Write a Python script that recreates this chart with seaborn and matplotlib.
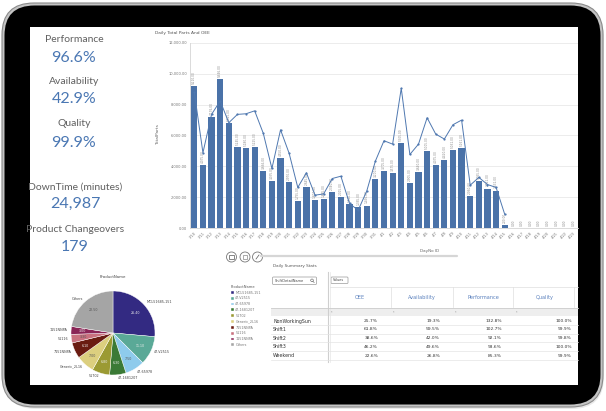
import numpy as np
import pandas as pd
import matplotlib
matplotlib.use("Agg")
import matplotlib.pyplot as plt
import seaborn as sns
from matplotlib.patches import FancyBboxPatch, Rectangle, Circle

# ---------------- data ----------------
days = ["3/10", "3/11", "3/12", "3/13", "3/14", "3/15", "3/16", "3/17", "3/18", "3/19",
        "3/20", "3/21", "3/22", "3/23", "3/24", "3/25", "3/26", "3/27", "3/28", "3/29",
        "3/30", "3/31", "4/1", "4/2", "4/3", "4/4", "4/5", "4/6", "4/7", "4/8",
        "4/9", "4/10", "4/11", "4/12", "4/13", "4/14", "4/15", "4/16", "4/17", "4/18",
        "4/19", "4/20", "4/21", "4/22", "4/23"]
total_parts = [9210, 4075, 7176, 9646, 6825, 5245, 5180, 5225, 3666, 3035,
               4550, 2970, 1755, 2645, 1800, 1885, 2340, 2015, 1560, 1365,
               1456, 3200, 3705, 3575, 5505, 2905, 3640, 5005, 4075, 4420,
               5031, 5161, 2060, 3055, 2561, 2431, 200, 0, 0, 0,
               0, 0, 0, 0, 0]
oee_pct = [88.0, 48.8, 73.7, 82.4, 68.3, 73.7, 74.1, 76.0, 61.4, 38.6,
           63.7, 48.4, 26.3, 35.8, 21.3, 22.1, 32.1, 33.6, 15.9, 11.5,
           24.0, 43.4, 56.6, 54.4, 90.6, 47.7, 54.4, 71.5, 60.9, 57.7,
           67.0, 70.0, 27.8, 32.8, 28.2, 26.3, 8.9]

kpi_names = ["Performance", "Availability", "Quality"]
kpi_values = ["96.6%", "42.9%", "99.9%"]
downtime_label, downtime_value = "DownTime (minutes)", "24,987"
changeover_label, changeover_value = "Product Changeovers", "179"

products = ["MCL51685-151", "47-V2515", "47-65978", "47-1681207", "51702",
            "Generic_2L16", "7151NNPA", "51116", "1151NNPA", "Others"]
product_share = [26.4, 11.1, 7.5, 6.3, 6.8, 7.0, 6.1, 3.3, 3.0, 22.5]
product_colors = ["#332a82", "#5aa997", "#8ecbec", "#3b7a36", "#9b9a33",
                  "#dccf7f", "#6a1c12", "#c9717f", "#8a2556", "#a5a5a5"]

shift_names = ["NonWorkingSun", "Shift1", "Shift2", "Shift3", "Weekend"]
table_cols = ["OEE", "Availability", "Performance", "Quality"]
oee_col = ["25.7%", "61.8%", "38.6%", "46.2%", "22.6%"]
avail_col = ["19.3%", "59.5%", "42.0%", "49.6%", "26.8%"]
perf_col = ["132.8%", "102.7%", "92.1%", "93.6%", "85.3%"]
qual_col = ["100.0%", "99.9%", "99.8%", "100.0%", "99.9%"]

# ---------------- figure ----------------
W, H = 606, 411
fig = plt.figure(figsize=(W / 100, H / 100), dpi=100)
fig.patch.set_facecolor("white")


def fr(x0, y0, x1, y1):
    return [x0 / W, 1 - y1 / H, (x1 - x0) / W, (y1 - y0) / H]


def fx(x):
    return x / W


def fy(y):
    return 1 - y / H


bg = fig.add_axes([0, 0, 1, 1], zorder=0)
bg.set_xlim(0, W)
bg.set_ylim(H, 0)
bg.axis("off")

# tablet frame
bg.add_patch(FancyBboxPatch((4, 7), 600, 402, boxstyle="round,pad=0,rounding_size=32",
                            fc="#dcdcdc", ec="none", alpha=0.6))
bg.add_patch(FancyBboxPatch((2, 3), 601, 404, boxstyle="round,pad=0,rounding_size=32",
                            fc="#c4c4c4", ec="#8a8a8a", lw=0.8))
bg.add_patch(FancyBboxPatch((4.5, 5.5), 596, 399, boxstyle="round,pad=0,rounding_size=30",
                            fc="#000000", ec="none"))
bg.add_patch(Rectangle((30, 27), 548, 358, fc="white", ec="none"))

KF = ["Lato", "DejaVu Sans"]
lab_c = "#606060"
val_c = "#4a77b3"

# KPI texts
kpi_y = [(39, 58), (81, 99), (123, 143)]
for name, val, (ly, vy) in zip(kpi_names, kpi_values, kpi_y):
    fig.text(fx(74), fy(ly), name, ha="center", va="center", fontsize=7.5, color=lab_c, family=KF)
    fig.text(fx(74), fy(vy), val, ha="center", va="center", fontsize=11.5, color=val_c, family=KF)
fig.text(fx(75), fy(187), downtime_label, ha="center", va="center", fontsize=7.5, color=lab_c, family=KF)
fig.text(fx(75), fy(204), downtime_value, ha="center", va="center", fontsize=11.5, color=val_c, family=KF)
fig.text(fx(75), fy(229), changeover_label, ha="center", va="center", fontsize=7.5, color=lab_c, family=KF)
fig.text(fx(75), fy(247), changeover_value, ha="center", va="center", fontsize=11.5, color=val_c, family=KF)

# ---------------- bar + line chart ----------------
bar_c = "#4a72a8"
ax = fig.add_axes(fr(190, 43, 578, 228), zorder=2)
ax.set_facecolor("none")
df = pd.DataFrame({"Day": days, "TotalParts": total_parts})
sns.barplot(data=df, x="Day", y="TotalParts", color=bar_c, saturation=1, width=0.72, ax=ax)
ax.set_ylim(0, 12000)
ax.set_xlim(-0.5, len(days) - 0.5)
ax.set_yticks(np.arange(0, 12001, 2000))
ax.set_yticklabels([f"{v:,.2f}" for v in np.arange(0, 12001, 2000)])
ax.tick_params(axis="both", length=0, labelsize=2.6, colors="#777777", pad=2)
ax.tick_params(axis="x", rotation=45)
for lbl in ax.get_xticklabels():
    lbl.set_ha("right")
    lbl.set_rotation_mode("anchor")
ax.grid(axis="y", color="#e9e9e9", lw=0.6)
ax.set_axisbelow(True)
for s in ["top", "right"]:
    ax.spines[s].set_visible(False)
for s in ["left", "bottom"]:
    ax.spines[s].set_color("#d4d4d4")
    ax.spines[s].set_linewidth(0.6)
ax.set_xlabel("")
ax.set_ylabel("")
ax.bar_label(ax.containers[0], labels=[f"{v:,.2f}" for v in total_parts], rotation=90,
             fontsize=2.1, color="#8a8a8a", padding=1.5)

ax2 = ax.twinx()
sns.lineplot(x=np.arange(len(oee_pct)), y=oee_pct, ax=ax2, color="#4f78b0", lw=0.7,
             marker="o", markersize=1.6, markeredgewidth=0)
ax2.set_ylim(0, 120)
ax2.set_xlim(-0.5, len(days) - 0.5)
ax2.axis("off")

fig.text(fx(155), fy(33), "Daily Total Parts And OEE", fontsize=3.2, color="#555555", va="center")
fig.text(fx(158), fy(135), "TotalParts", fontsize=3.2, color="#666666", rotation=90,
         ha="center", va="center")
fig.text(fx(430), fy(251), "DayNo ID", fontsize=3, color="#666666", ha="center", va="center")

# scroll bar + icons
bg.plot([261, 457], [256, 256], color="#d6d6d6", lw=1.6, solid_capstyle="round")
for cx in [231.5, 245, 257.5]:
    bg.add_patch(Circle((cx, 257), 5, fc="white", ec="#777777", lw=0.6))
bg.add_patch(Rectangle((229.3, 255.3), 4.4, 3.4, fc="none", ec="#555", lw=0.5))
bg.add_patch(Rectangle((243, 255), 4, 4, fc="none", ec="#888", lw=0.5))
bg.plot([256, 259], [259, 255], color="#555", lw=0.5)

# ---------------- pie ----------------
pax = fig.add_axes(fr(71, 291, 155, 375), zorder=2)
wedges, texts, autotexts = pax.pie(
    product_share, colors=product_colors, startangle=90, counterclock=False,
    labels=products, labeldistance=1.08, autopct="%.2f", pctdistance=0.72,
    textprops={"fontsize": 2.4, "color": "#444444"},
    wedgeprops={"linewidth": 0.3, "edgecolor": "white"})
for t, c in zip(autotexts, product_colors):
    t.set_fontsize(2.3)
    t.set_color("#eeeeee" if c in ["#332a82", "#5aa997", "#3b7a36", "#6a1c12", "#8a2556", "#9b9a33"] else "#555555")
pax.set_xlim(-1, 1)
pax.set_ylim(-1, 1)
pax.set_aspect("equal")
fig.text(fx(113), fy(277), "ProductName", fontsize=2.8, color="#444", ha="center", va="center")

leg = pax.legend(wedges, products, title="ProductName", loc="upper left",
                 bbox_to_anchor=(fx(229), fy(283)), bbox_transform=fig.transFigure,
                 fontsize=2.4, title_fontsize=2.6, frameon=False, handlelength=0.9,
                 handleheight=0.9, handletextpad=0.5, labelspacing=0.55, borderpad=0,
                 alignment="left")
for t in leg.get_texts():
    t.set_color("#777777")
leg.get_title().set_color("#555555")

# ---------------- table ----------------
fig.text(fx(273), fy(266), "Daily Summary Stats", fontsize=3, color="#555555", va="center")
bg.add_patch(FancyBboxPatch((272.5, 277), 44, 7.5, boxstyle="round,pad=0,rounding_size=1",
                            fc="white", ec="#9a9a9a", lw=0.5))
fig.text(fx(274.5), fy(281), "ShiftDetailName", fontsize=2.5, color="#444", va="center")
bg.add_patch(Circle((312, 280.3), 1.3, fc="none", ec="#555", lw=0.4))
bg.plot([312.9, 314.2], [281.3, 282.6], color="#555", lw=0.4)
bg.add_patch(FancyBboxPatch((331, 277), 17, 6.5, boxstyle="round,pad=0,rounding_size=1",
                            fc="white", ec="#9a9a9a", lw=0.5))
fig.text(fx(333), fy(280.3), "Values", fontsize=2.4, color="#444", va="center")

line_c = "#dedede"
bg.plot([328, 328], [272, 362], color="#cfcfcf", lw=0.8)
bg.plot([329.5, 329.5], [272, 362], color="#e6e6e6", lw=0.5)
bg.plot([330, 578], [287, 287], color=line_c, lw=0.5)
for x in [391, 453, 513, 574]:
    bg.plot([x, x], [287, 307], color=line_c, lw=0.5)
bg.add_patch(Rectangle((271, 307.5), 307, 8.5, fc="#eeeeee", ec="none"))
bg.plot([271, 578], [307.5, 307.5], color="#cccccc", lw=0.6)
for x in [331, 393, 455, 516]:
    fig.text(fx(x), fy(312), "*", fontsize=2.2, color="#888", va="center")

col_x = [360, 422, 483, 545]
for name, x in zip(table_cols, col_x):
    fig.text(fx(x), fy(297), name, fontsize=3.6, color="#5a80bd", ha="center", va="center")

row_y = [321, 329.5, 338, 346.5, 355.5]
val_x = [378, 440, 502, 572]
cols = [oee_col, avail_col, perf_col, qual_col]
for i, (rn, y) in enumerate(zip(shift_names, row_y)):
    fig.text(fx(273), fy(y), rn, fontsize=3.4, color="#333333", va="center")
    for c, x in zip(cols, val_x):
        fig.text(fx(x), fy(y), c[i], fontsize=3.2, color="#333333", va="center", ha="right")
    bg.plot([271, 578], [y + 4.2, y + 4.2], color="#e4e4e4", lw=0.5)

fig.savefig("out.png", dpi=100, facecolor="white")
